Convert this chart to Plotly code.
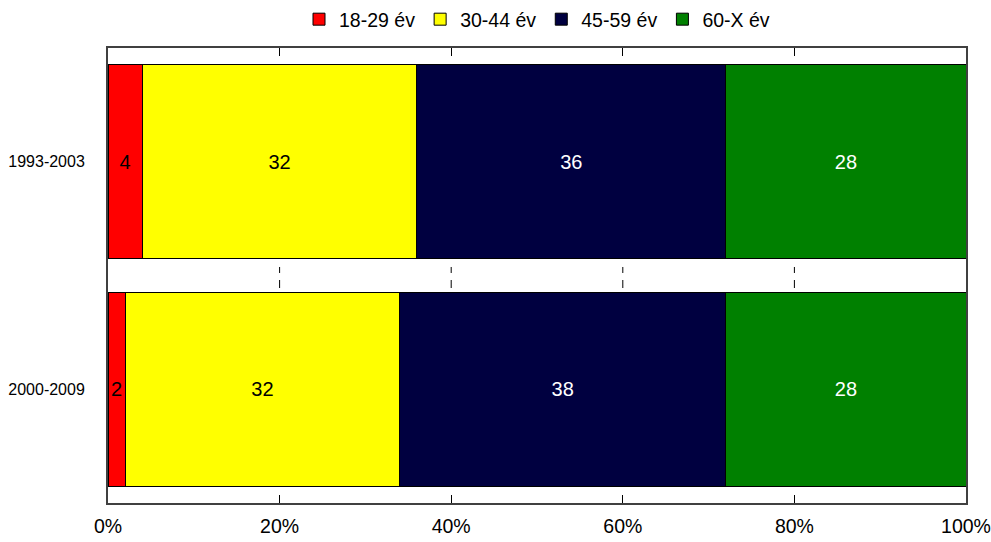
import plotly.graph_objects as go

categories = ["1993-2003", "2000-2009"]
series_names = ["18-29 év", "30-44 év", "45-59 év", "60-X év"]
values_18_29 = [4, 2]
values_30_44 = [32, 32]
values_45_59 = [36, 38]
values_60_x = [28, 28]
x_ticks = [0, 20, 40, 60, 80, 100]

colors = ["#FF0000", "#FFFF00", "#000040", "#008000"]
text_colors = ["#000000", "#000000", "#FFFFFF", "#FFFFFF"]
all_values = [values_18_29, values_30_44, values_45_59, values_60_x]

FONT = "Liberation Sans, Arial, sans-serif"

fig = go.Figure()
for name, vals, col, tcol in zip(series_names, all_values, colors, text_colors):
    fig.add_trace(go.Bar(
        y=categories, x=vals, name=name, orientation="h",
        marker=dict(color=col, line=dict(color="#000000", width=1)),
        text=[str(v) for v in vals], textposition="inside",
        insidetextanchor="middle",
        textfont=dict(color=tcol, size=20, family=FONT),
    ))

shapes = []
for t in x_ticks[1:-1]:
    for y0, y1 in [(0.5187, 0.5055), (0.4901, 0.4725)]:
        shapes.append(dict(type="line", xref="x", yref="paper", x0=t, x1=t,
                           y0=y0, y1=y1, line=dict(color="#000000", width=1)))

fig.update_layout(
    barmode="stack",
    bargap=0.147,
    width=991, height=542,
    margin=dict(l=108, r=25, t=48, b=39, autoexpand=False),
    paper_bgcolor="#FFFFFF", plot_bgcolor="#FFFFFF",
    font=dict(family=FONT, size=20, color="#000000"),
    uniformtext=dict(minsize=20, mode="show"),
    showlegend=True,
    legend=dict(orientation="h", x=0.5, xanchor="center", y=1.0, yanchor="top",
                yref="container", font=dict(size=19.5, family=FONT), traceorder="normal",
                itemwidth=30, tracegroupgap=0),
    shapes=shapes,
    xaxis=dict(range=[0, 100], tickvals=x_ticks, ticktext=[f"{t}%" for t in x_ticks],
               ticks="inside", ticklen=8, tickcolor="#000000", tickwidth=1,
               showline=True, linecolor="#404040", linewidth=2, mirror="ticks",
               showgrid=False, zeroline=False, ticklabelstandoff=5,
               ticklabeloverflow="allow", automargin=False,
               tickfont=dict(size=19.5, family=FONT)),
    yaxis=dict(type="category", range=[1.5, -0.5], ticks="",
               showline=True, linecolor="#404040", linewidth=2, mirror=True,
               showgrid=False, zeroline=False, ticklabelstandoff=18, automargin=False,
               tickfont=dict(size=16, family=FONT)),
)

fig.write_html("out.html", config={"displayModeBar": False},
               post_script="document.body.style.margin='0';document.body.style.padding='0';")
